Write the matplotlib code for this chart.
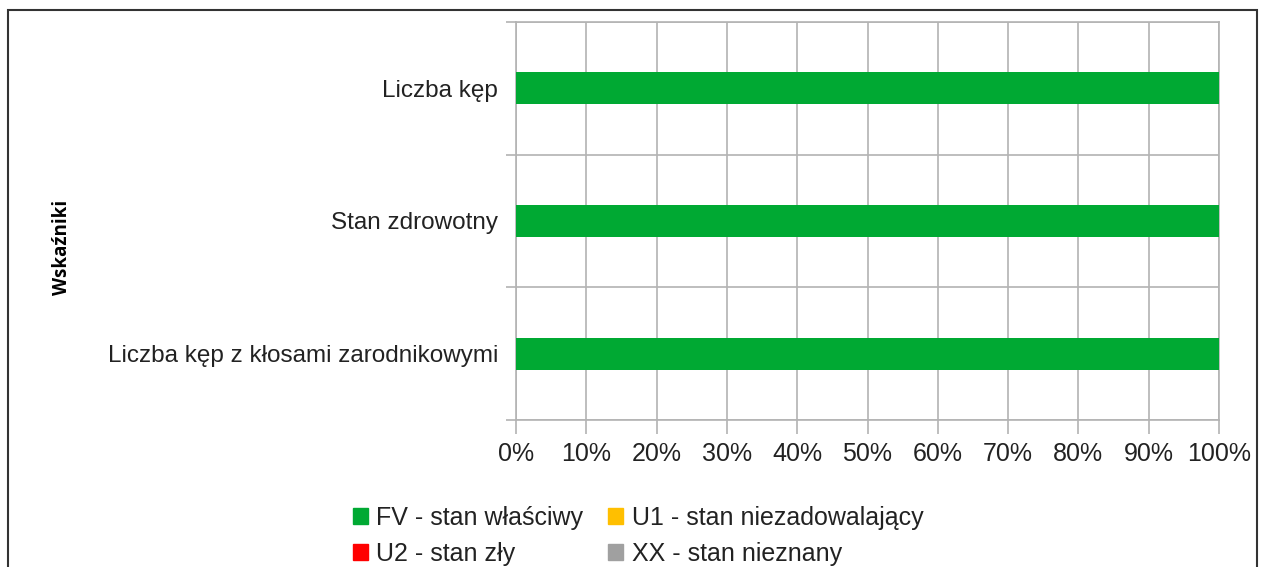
import matplotlib.pyplot as plt
from matplotlib.patches import Rectangle, Patch

plt.rcParams['font.family'] = ['Liberation Sans', 'DejaVu Sans']

indicators = ['Liczba kęp', 'Stan zdrowotny', 'Liczba kęp z kłosami zarodnikowymi']
fv = [100, 100, 100]
u1 = [0, 0, 0]
u2 = [0, 0, 0]
xx = [0, 0, 0]
series_names = ['FV - stan właściwy', 'U1 - stan niezadowalający',
                'U2 - stan zły', 'XX - stan nieznany']
colors = ['#00a933', '#ffbf00', '#ff0000', '#a0a0a0']
x_ticks = list(range(0, 101, 10))

grid_c = '#b3b3b3'

fig = plt.figure(figsize=(12.65, 5.67), dpi=100)
ax = fig.add_axes([516 / 1265, 1 - 420 / 567, (1219 - 516) / 1265, (420 - 22) / 567])

# outer frame (runs off the bottom edge like the source)
fig.patches.append(Rectangle((8 / 1265, -0.05), (1257 - 8) / 1265, 1.05 - 10 / 567,
                             transform=fig.transFigure, fill=False,
                             edgecolor='#333333', linewidth=1.5))

ypos = list(range(len(indicators)))
left = [0] * len(indicators)
for vals, name, c in zip([fv, u1, u2, xx], series_names, colors):
    ax.barh(ypos, vals, left=left, height=0.24, color=c, label=name, zorder=3)
    left = [a + b for a, b in zip(left, vals)]

ax.set_xlim(0, 100)
ax.set_ylim(len(indicators) - 0.5, -0.5)
ax.set_xticks(x_ticks)
ax.set_xticklabels([f'{v}%' for v in x_ticks], fontsize=18, color='#222222')
ax.set_yticks(ypos)
ax.set_yticklabels(indicators, fontsize=17.5, color='#222222')
ax.set_yticks([y - 0.5 for y in range(len(indicators) + 1)], minor=True)

ax.tick_params(axis='y', which='major', length=0, pad=13)
ax.tick_params(axis='y', which='minor', length=7, color=grid_c, width=1.2)
ax.tick_params(axis='x', which='major', length=10, color=grid_c, width=1.2, pad=6)

ax.grid(axis='x', which='major', color=grid_c, linewidth=1.2, zorder=0)
ax.grid(axis='y', which='minor', color=grid_c, linewidth=1.2, zorder=0)
for s in ax.spines.values():
    s.set_color(grid_c)
    s.set_linewidth(1.2)

fig.text(62 / 1265, 1 - 247 / 567, 'Wskaźniki', rotation=90, fontsize=13.5,
         fontweight='bold', ha='center', va='center', family=['Open Sans', 'DejaVu Sans'])

handles = [Patch(color=c) for c in colors]
order = [0, 2, 1, 3]
fig.legend([handles[i] for i in order], [series_names[i] for i in order],
           ncol=2, loc='upper left', bbox_to_anchor=(340 / 1265, 1 - 493 / 567),
           frameon=False, fontsize=18, handlelength=0.6, handleheight=0.6,
           handletextpad=0.35, columnspacing=1.0, labelspacing=0.5,
           borderpad=0, labelcolor='#222222')

fig.savefig('out.png', dpi=100)
